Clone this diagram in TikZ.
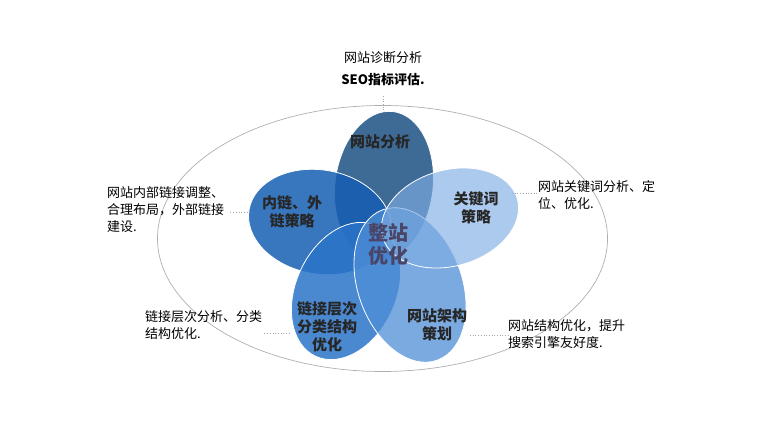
\documentclass[tikz,border=0pt]{standalone}
\usepackage{fontspec}
\setmainfont{Noto Sans CJK SC}
\usetikzlibrary{positioning,calc}
\definecolor{petalA}{RGB}{62,106,150}
\definecolor{petalB}{RGB}{127,173,227}
\definecolor{petalC}{RGB}{79,142,215}
\definecolor{petalD}{RGB}{42,116,200}
\definecolor{petalE}{RGB}{21,94,179}
\definecolor{hubtext}{RGB}{74,68,102}
\definecolor{ringgray}{RGB}{175,175,175}

\begin{document}
\begin{tikzpicture}[x=1pt, y=-1pt,
  petal/.style={draw=white, line width=0.8pt},
  ptext/.style={align=center, font=\fontsize{15pt}{18pt}\selectfont\bfseries, text=black!85},
  note/.style={align=left, font=\fontsize{13pt}{17pt}\selectfont, inner sep=0pt},
  link/.style={draw=gray!70, dotted, line width=0.7pt}
]
\useasboundingbox (0,0) rectangle (778,443);

% outer ring
\draw[ringgray, line width=0.7pt] (382.5,238.5) ellipse [x radius=225, y radius=133];

% petals
\filldraw[petal, fill=petalA] [rotate around={83:(384,186)}] (384,186) ellipse [x radius=75, y radius=49];
\filldraw[petal, fill=petalE, fill opacity=0.85] [rotate around={170:(320,222)}] (320,222) ellipse [x radius=72, y radius=52];
\filldraw[petal, fill=petalD, fill opacity=0.85] [rotate around={-115:(346,291)}] (346,291) ellipse [x radius=72, y radius=50];
\filldraw[petal, fill=petalC, fill opacity=0.75] [rotate around={-70:(410,285)}] (410,285) ellipse [x radius=80, y radius=52];
\filldraw[petal, fill=petalB, fill opacity=0.65] [rotate around={16:(450,218)}] (450,218) ellipse [x radius=70, y radius=48];

% petal texts
\node[ptext] (analysis) at (380,142) {网站分析};
\node[ptext] (keyword) at (476,208) {关键词\\策略};
\node[ptext] (frame) at (437,325) {网站架构\\策划};
\node[ptext] (level) at (327,327) {链接层次\\分类结构\\优化};
\node[ptext] (inlink) at (292,212) {内链、外\\链策略};
\node[ptext, font=\fontsize{20pt}{23pt}\selectfont\bfseries, text=hubtext] (hub) at (388,244) {整站\\优化};

% notes
\node[note, align=center, font=\fontsize{13pt}{22pt}\selectfont] (n1) at (383,69) {网站诊断分析\\\textbf{SEO指标评估.}};
\node[note, anchor=west] (n2) at (538,195) {网站关键词分析、定\\位、优化.};
\node[note, anchor=west] (n3) at (508,334) {网站结构优化，提升\\搜索引擎友好度.};
\node[note, anchor=west] (n4) at (145,325) {链接层次分析、分类\\结构优化.};
\node[note, anchor=west] (n5) at (107,210) {网站内部链接调整、\\合理布局，外部链接\\建设.};

% dotted leaders
\coordinate (c1) at (383,111);
\coordinate (c2) at (512,193);
\coordinate (c3) at (470,335);
\coordinate (c4) at (289,333);
\coordinate (c5) at (252,212);
\draw[link] (n1.south |- 0,96) -- (c1);
\draw[link] (c2) -- (c2 -| n2.west);
\draw[link] (c3) -- (c3 -| n3.west);
\draw[link] ($(c4 -| n4.east)+(2,0)$) -- (c4);
\draw[link] ($(c5 -| n5.east)+(6,0)$) -- (c5);
\end{tikzpicture}
\end{document}
